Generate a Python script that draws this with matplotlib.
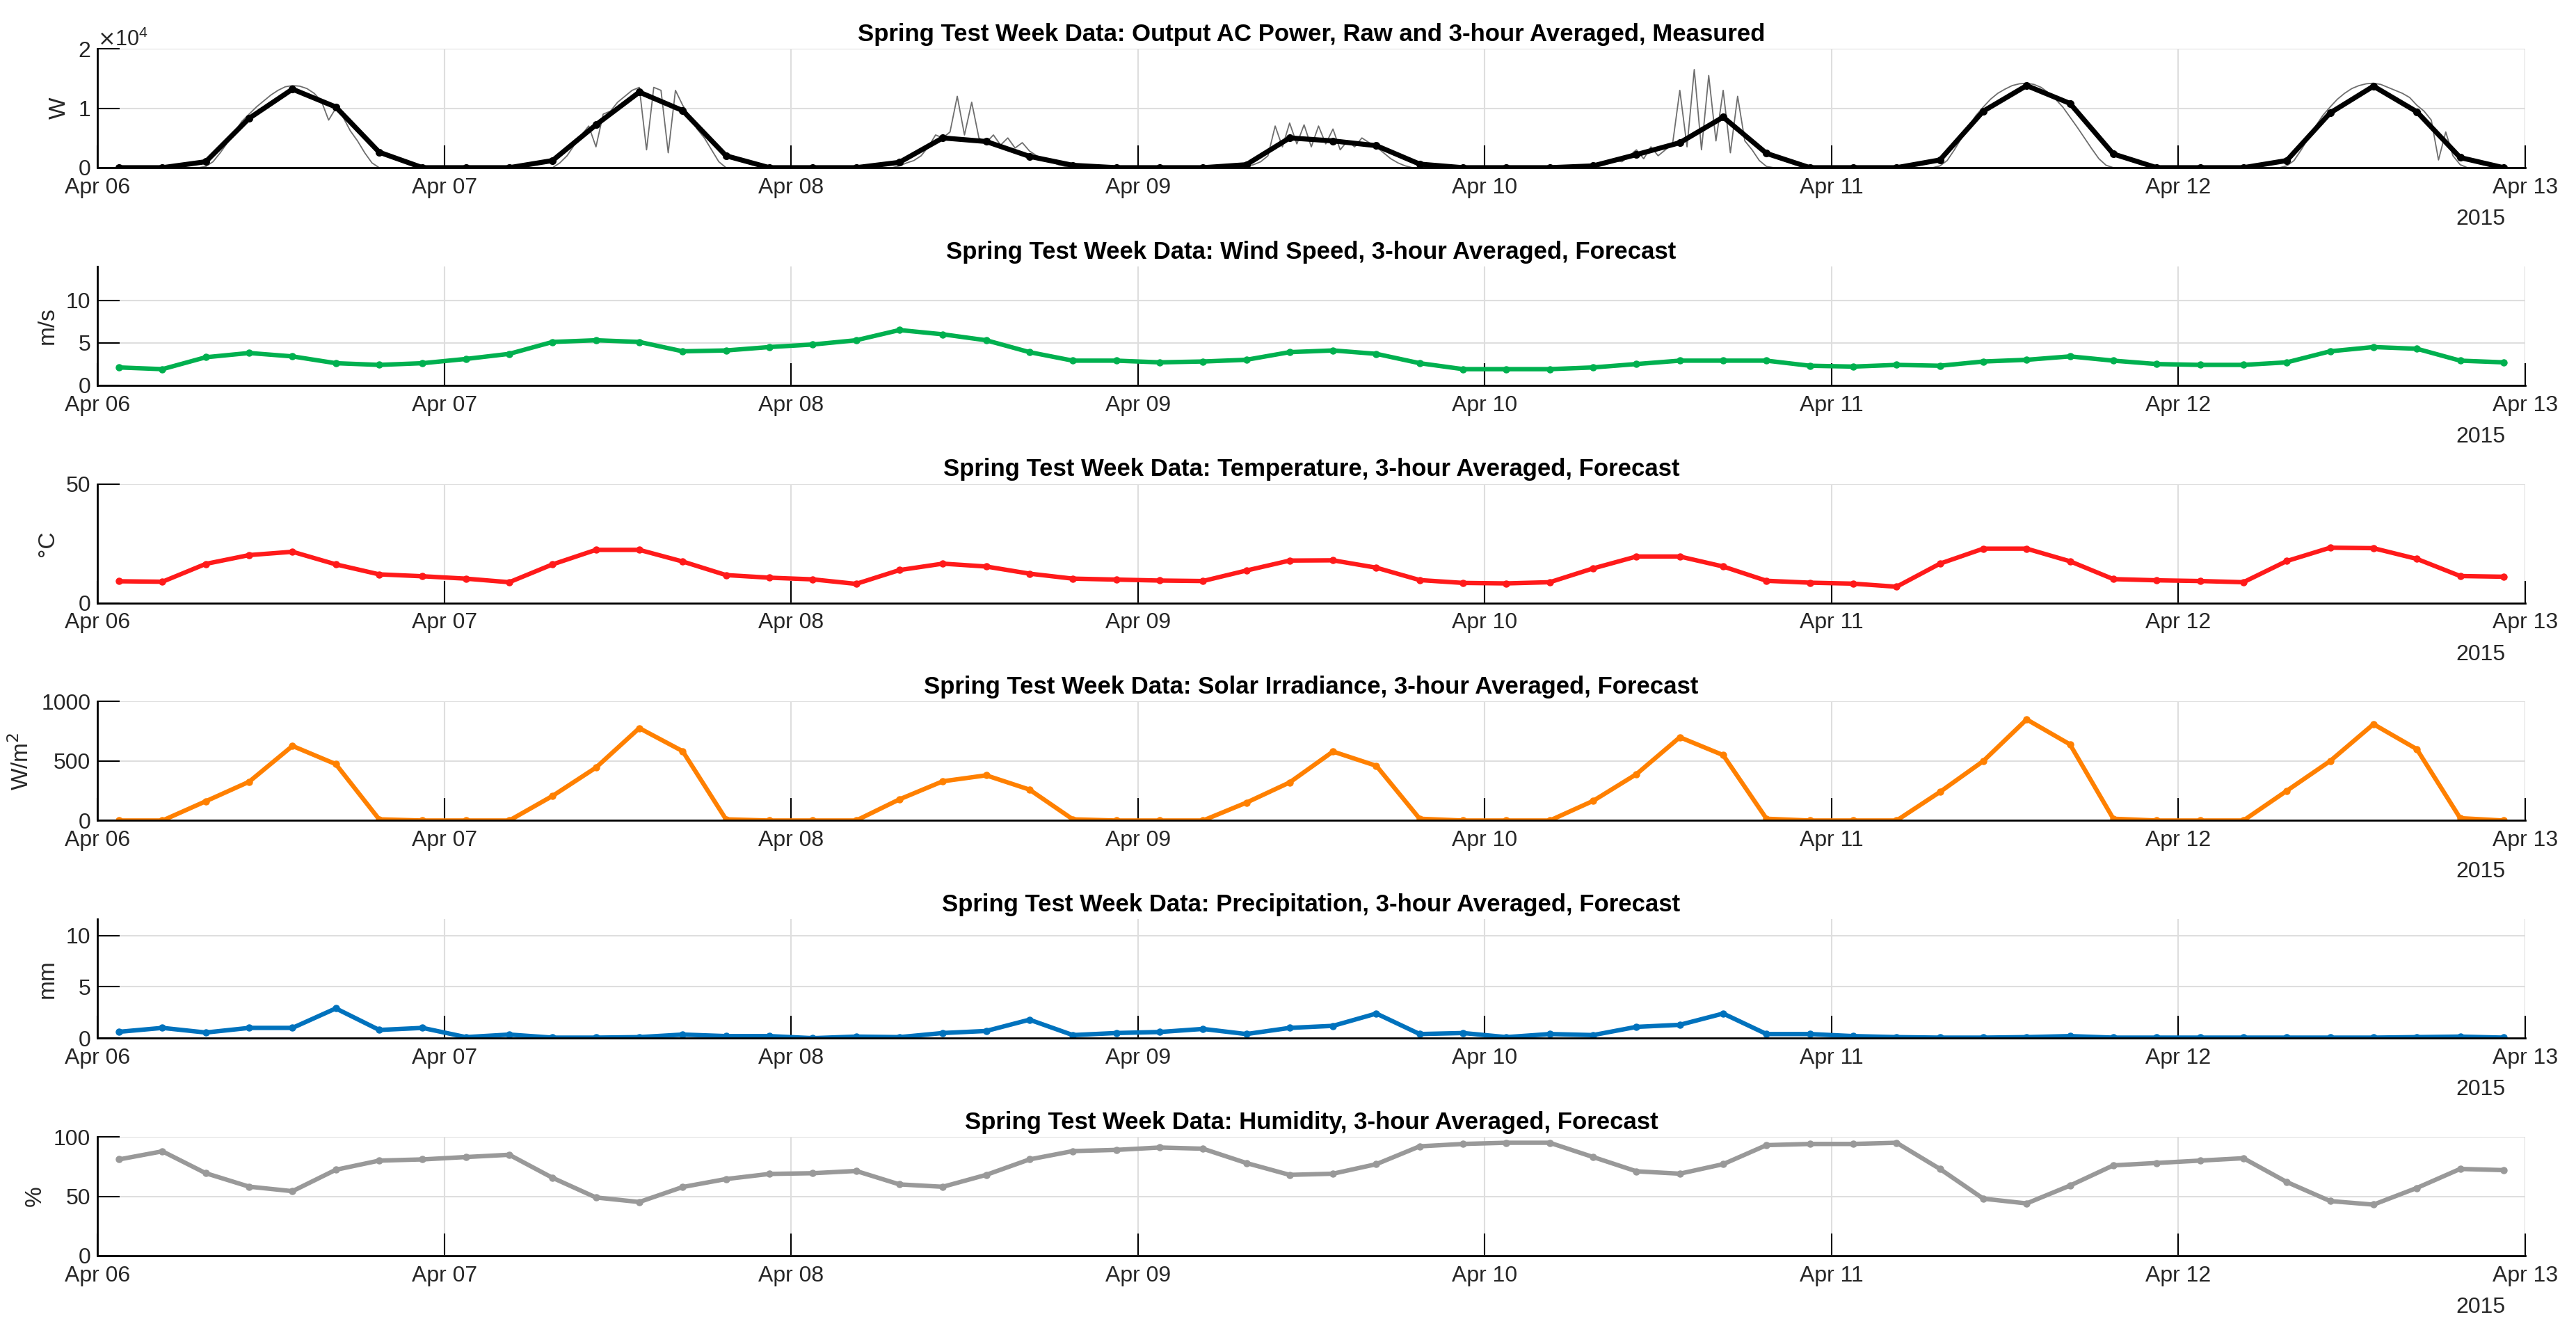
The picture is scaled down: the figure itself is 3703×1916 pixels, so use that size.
import numpy as np
import matplotlib
matplotlib.use("Agg")
import matplotlib.pyplot as plt
import matplotlib.dates as mdates
from matplotlib.ticker import ScalarFormatter, FixedLocator

plt.rcParams['font.family'] = ['Liberation Sans', 'DejaVu Sans']

# ---------------- DATA ----------------
# 3-hour averaged series: 8 points per day (01:30, 04:30, ..., 22:30), Apr 06 .. Apr 12 2015
power_avg = [   # W
    0, 0, 1000, 8300, 13200, 10200, 2600, 0,
    0, 0, 1200, 7200, 12700, 9600, 2000, 0,
    0, 0, 900, 5000, 4400, 1900, 400, 0,
    0, 0, 500, 5000, 4500, 3700, 600, 0,
    0, 0, 300, 2200, 4200, 8500, 2400, 0,
    0, 0, 1300, 9500, 13800, 10800, 2300, 0,
    0, 0, 1200, 9200, 13700, 9400, 1700, 0,
]
wind = [        # m/s
    2.1, 1.9, 3.3, 3.8, 3.4, 2.6, 2.4, 2.6,
    3.1, 3.7, 5.1, 5.3, 5.1, 4.0, 4.1, 4.5,
    4.8, 5.3, 6.5, 6.0, 5.3, 3.9, 2.9, 2.9,
    2.7, 2.8, 3.0, 3.9, 4.1, 3.7, 2.6, 1.9,
    1.9, 1.9, 2.1, 2.5, 2.9, 2.9, 2.9, 2.3,
    2.2, 2.4, 2.3, 2.8, 3.0, 3.4, 2.9, 2.5,
    2.4, 2.4, 2.7, 4.0, 4.5, 4.3, 2.9, 2.7,
]
temperature = [ # deg C
    9.1, 8.9, 16.4, 20.1, 21.5, 16.2, 12.0, 11.2,
    10.2, 8.7, 16.2, 22.3, 22.3, 17.4, 11.7, 10.6,
    9.9, 8.0, 13.8, 16.5, 15.3, 12.3, 10.2, 9.8,
    9.4, 9.2, 13.6, 17.8, 17.9, 14.8, 9.6, 8.4,
    8.2, 8.7, 14.5, 19.5, 19.5, 15.3, 9.3, 8.5,
    8.1, 6.8, 16.5, 22.8, 22.8, 17.5, 10.0, 9.5,
    9.2, 8.7, 17.6, 23.2, 23.0, 18.5, 11.3, 11.0,
]
irradiance = [  # W/m^2
    0, 0, 162, 326, 627, 474, 10, 0,
    0, 0, 207, 445, 777, 583, 10, 0,
    0, 0, 178, 330, 380, 260, 10, 0,
    0, 0, 150, 320, 580, 460, 15, 0,
    0, 0, 165, 390, 700, 550, 15, 0,
    0, 0, 240, 500, 850, 640, 15, 0,
    0, 0, 250, 500, 810, 600, 20, 0,
]
precipitation = [  # mm
    0.62, 1.0, 0.55, 1.0, 1.0, 2.9, 0.8, 1.0,
    0.1, 0.35, 0.05, 0.05, 0.1, 0.35, 0.2, 0.2,
    0.0, 0.15, 0.1, 0.5, 0.7, 1.8, 0.3, 0.5,
    0.6, 0.9, 0.4, 1.0, 1.2, 2.4, 0.4, 0.5,
    0.1, 0.4, 0.3, 1.1, 1.3, 2.4, 0.4, 0.4,
    0.2, 0.1, 0.05, 0.05, 0.1, 0.2, 0.05, 0.05,
    0.05, 0.05, 0.05, 0.05, 0.05, 0.1, 0.15, 0.05,
]
humidity = [    # %
    81, 87.8, 69.4, 58.1, 54.3, 72.3, 80, 81,
    83, 84.9, 65.5, 49, 45.2, 57.8, 64.5, 68.8,
    69.4, 71.3, 60, 58, 68, 81, 88, 89,
    91, 90, 78, 68, 69, 77, 92, 94,
    95, 95, 83, 71, 69, 77, 93, 94,
    94, 95, 73, 48, 44, 59, 76, 78,
    80, 82, 62, 46, 43, 57, 73, 72,
]

# raw measured AC power (x1e4 W), 30-minute readings from 06:00 to 20:00 each day
raw_hours = [6.0 + 0.5 * i for i in range(29)]
raw_apr06 = [0, 0, 0, 0.02, 0.1, 0.25, 0.42, 0.6, 0.78, 0.9, 1.02, 1.12, 1.22, 1.3, 1.36,
             1.38, 1.37, 1.33, 1.25, 1.12, 0.8, 1.0, 0.85, 0.62, 0.45, 0.25, 0.08, 0.0, 0]
raw_apr07 = [0, 0, 0, 0, 0.08, 0.2, 0.38, 0.55, 0.7, 0.35, 0.9, 0.95, 1.1, 1.2, 1.3,
             1.35, 0.3, 1.35, 1.3, 0.25, 1.3, 1.05, 0.85, 0.65, 0.5, 0.3, 0.1, 0.0, 0]
raw_apr08 = [0, 0, 0, 0.03, 0.08, 0.12, 0.2, 0.35, 0.55, 0.5, 0.6, 1.2, 0.55, 1.1, 0.5,
             0.42, 0.55, 0.38, 0.5, 0.33, 0.42, 0.28, 0.2, 0.15, 0.1, 0.05, 0.02, 0, 0]
raw_apr09 = [0, 0, 0, 0.02, 0.05, 0.1, 0.2, 0.7, 0.35, 0.75, 0.4, 0.72, 0.35, 0.7, 0.4,
             0.65, 0.3, 0.45, 0.35, 0.5, 0.42, 0.35, 0.25, 0.15, 0.08, 0.03, 0, 0, 0]
raw_apr10 = [0, 0, 0, 0.02, 0.05, 0.08, 0.12, 0.1, 0.2, 0.3, 0.15, 0.35, 0.2, 0.3, 0.4,
             1.3, 0.35, 1.65, 0.3, 1.55, 0.45, 1.3, 0.25, 1.2, 0.45, 0.3, 0.12, 0.02, 0]
raw_apr11 = [0, 0, 0, 0.03, 0.12, 0.3, 0.5, 0.7, 0.88, 1.02, 1.15, 1.25, 1.32, 1.38, 1.41,
             1.42, 1.4, 1.35, 1.26, 1.15, 1.02, 0.85, 0.68, 0.5, 0.32, 0.15, 0.04, 0, 0]
raw_apr12 = [0, 0, 0, 0.03, 0.12, 0.3, 0.5, 0.7, 0.88, 1.02, 1.15, 1.25, 1.33, 1.38, 1.41,
             1.42, 1.4, 1.35, 1.3, 1.25, 1.18, 1.05, 0.95, 0.8, 0.13, 0.6, 0.2, 0.05, 0]
raw_days = [raw_apr06, raw_apr07, raw_apr08, raw_apr09, raw_apr10, raw_apr11, raw_apr12]

day_labels = ['Apr 06', 'Apr 07', 'Apr 08', 'Apr 09', 'Apr 10', 'Apr 11', 'Apr 12', 'Apr 13']
year_label = '2015'

titles = [
    'Spring Test Week Data: Output AC Power, Raw and 3-hour Averaged, Measured',
    'Spring Test Week Data: Wind Speed, 3-hour Averaged, Forecast',
    'Spring Test Week Data: Temperature, 3-hour Averaged, Forecast',
    'Spring Test Week Data: Solar Irradiance, 3-hour Averaged, Forecast',
    'Spring Test Week Data: Precipitation, 3-hour Averaged, Forecast',
    'Spring Test Week Data: Humidity, 3-hour Averaged, Forecast',
]
ylabels = ['W', 'm/s', '°C', 'W/m$^2$', 'mm', '%']
ylims = [(0, 20000), (0, 14), (0, 50), (0, 1000), (0, 11.6), (0, 100)]
yticks = [[0, 10000, 20000], [0, 5, 10], [0, 50], [0, 500, 1000], [0, 5, 10], [0, 50, 100]]
colors = ['#000000', '#00B04F', '#FF1A1A', '#FF8000', '#0072BD', '#999999']

# ---------------- TIME AXES ----------------
t0 = np.datetime64('2015-04-06T00:00')
avg_time = t0 + np.timedelta64(90, 'm') + np.arange(56) * np.timedelta64(3, 'h')
raw_time = np.concatenate([
    t0 + np.timedelta64(d, 'D') + (np.array(raw_hours) * 60).astype(int) * np.timedelta64(1, 'm')
    for d in range(7)])
raw_power = np.concatenate(raw_days) * 1e4
day_ticks = t0 + np.arange(8) * np.timedelta64(1, 'D')

series = [power_avg, wind, temperature, irradiance, precipitation, humidity]

# ---------------- FIGURE ----------------
W, H = 3703, 1916
fig = plt.figure(figsize=(W / 100, H / 100), dpi=100)
left_px, right_px = 140, 3630
ax_h_px = 171
top0_px = 70
step_px = 312.8

TICK_FS = 23
TXT = '#262626'
for i in range(6):
    top = top0_px + step_px * i
    ax = fig.add_axes([left_px / W, 1 - (top + ax_h_px) / H,
                       (right_px - left_px) / W, ax_h_px / H])
    if i == 0:
        ax.plot(raw_time, raw_power, color='#6E6E6E', lw=1.3, zorder=2)
        lw, ms = 5.2, 7
    else:
        lw, ms = 4.6, 6.5
    ax.plot(avg_time, series[i], color=colors[i], lw=lw, marker='o', ms=ms,
            zorder=3, solid_joinstyle='round')
    ax.set_xlim(day_ticks[0], day_ticks[-1])
    ax.set_ylim(*ylims[i])
    ax.set_yticks(yticks[i])
    ax.xaxis.set_major_locator(FixedLocator(mdates.date2num(day_ticks)))
    ax.set_xticklabels(day_labels)
    ax.grid(True, color='#DEDEDE', lw=1.5)
    ax.set_axisbelow(True)
    for s in ['top', 'right']:
        ax.spines[s].set_visible(False)
    for s in ['left', 'bottom']:
        ax.spines[s].set_linewidth(2)
        ax.spines[s].set_color('#000000')
        ax.spines[s].set_zorder(4)
    ax.tick_params(axis='both', direction='in', length=23, width=1.5, color='black',
                   labelsize=TICK_FS, labelcolor=TXT)
    ax.tick_params(axis='x', pad=10)
    ax.tick_params(axis='y', pad=7)
    ax.set_title(titles[i], fontsize=25, fontweight='bold', pad=8, color='black')
    ax.set_ylabel(ylabels[i], fontsize=24, labelpad=8, color=TXT)
    ax.text((3601 - left_px) / (right_px - left_px), -74 / ax_h_px, year_label,
            transform=ax.transAxes, ha='right', va='center', fontsize=TICK_FS,
            color=TXT)
    if i == 0:
        fmt = ScalarFormatter(useMathText=True)
        fmt.set_powerlimits((0, 0))
        ax.yaxis.set_major_formatter(fmt)
        ax.yaxis.get_offset_text().set_fontsize(22)
        ax.yaxis.get_offset_text().set_color(TXT)

fig.savefig('out.png', dpi=100, facecolor='white')
